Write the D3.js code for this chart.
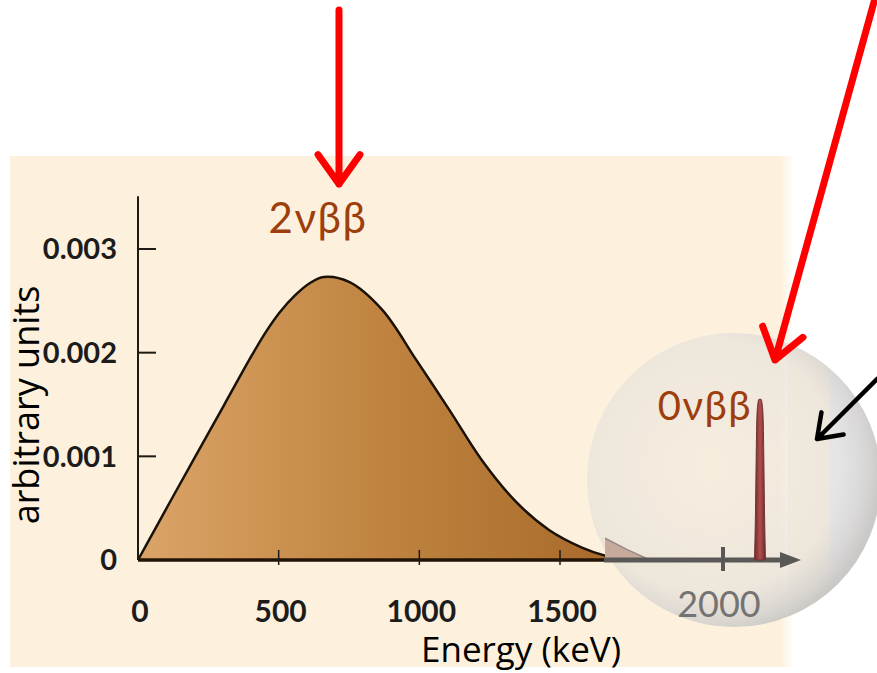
<!DOCTYPE html>
<html>
<head>
<meta charset="utf-8">
<script src="https://cdn.jsdelivr.net/npm/d3@7"></script>
<style>
  html, body { margin: 0; padding: 0; background: #fff; }
  svg { display: block; }
</style>
</head>
<body>
<svg id="chart" width="877" height="673"></svg>
<script>
// 2νββ spectrum: energy (keV) vs rate (arbitrary units)
const energy = [0, 67, 124, 202, 305, 408, 457, 504, 557, 610, 660, 752, 869, 989, 1106, 1223, 1344, 1461, 1578, 1663, 1750];
const rate   = [0, 0.00033, 0.00061, 0.00099, 0.00149, 0.00199, 0.00221, 0.00239, 0.00255, 0.00267, 0.00273, 0.00268, 0.00241, 0.00193, 0.00145, 0.00096, 0.00056, 0.00029, 0.00012, 0.00004, 0];

// end-point region seen through the lens (magnified energy axis)
const tailEnergy = [1875.6, 1875.7, 1899, 1923];
const tailRate   = [0, 0.00021, 0.0001, 0];

// 0νββ line at Q = 2039 keV
const peakEnergy = [2033.2, 2034.3, 2035.0, 2035.5, 2036.4, 2037.95, 2040.05, 2041.6, 2042.5, 2043.0, 2043.7, 2044.8];
const peakRate   = [0, 0.0005, 0.001, 0.0013, 0.00148, 0.00155, 0.00155, 0.00148, 0.0013, 0.001, 0.0005, 0];

const xTicks = [0, 500, 1000, 1500];
const yTicks = [0, 0.001, 0.002, 0.003];
const yTickLabels = ["0", "0.001", "0.002", "0.003"];
const lensTick = 2000;

const svg = d3.select("#chart");
const defs = svg.append("defs");

const x = d3.scaleLinear().domain([0, 1500]).range([138, 560]);
const y = d3.scaleLinear().domain([0, 0.003]).range([560, 249]);
const xLens = d3.scaleLinear().domain([2000, 2039]).range([723, 760]);

// gradients
const bg = defs.append("linearGradient").attr("id", "bg").attr("x1", 0).attr("x2", 1);
bg.append("stop").attr("offset", "0.985").attr("stop-color", "#fdf1dd");
bg.append("stop").attr("offset", "1").attr("stop-color", "#fdf1dd").attr("stop-opacity", 0.2);

const fillG = defs.append("linearGradient").attr("id", "fillG")
  .attr("gradientUnits", "userSpaceOnUse").attr("x1", 138).attr("x2", 620).attr("y1", 0).attr("y2", 0);
fillG.append("stop").attr("offset", "0").attr("stop-color", "#dba468");
fillG.append("stop").attr("offset", "0.5").attr("stop-color", "#c08440");
fillG.append("stop").attr("offset", "1").attr("stop-color", "#a6692a");

const lensG = defs.append("radialGradient").attr("id", "lensG")
  .attr("cx", "0.42").attr("cy", "0.45").attr("r", "0.58");
lensG.append("stop").attr("offset", "0").attr("stop-color", "#e6e4e2").attr("stop-opacity", 0.3);
lensG.append("stop").attr("offset", "0.75").attr("stop-color", "#dddbd9").attr("stop-opacity", 0.5);
lensG.append("stop").attr("offset", "0.93").attr("stop-color", "#d0cecc").attr("stop-opacity", 0.82);
lensG.append("stop").attr("offset", "1").attr("stop-color", "#c8c6c4").attr("stop-opacity", 0.92);

const peakG = defs.append("linearGradient").attr("id", "peakG").attr("x1", 0).attr("x2", 1);
peakG.append("stop").attr("offset", "0").attr("stop-color", "#6a2c2c");
peakG.append("stop").attr("offset", "0.5").attr("stop-color", "#b44c4c");
peakG.append("stop").attr("offset", "1").attr("stop-color", "#6a2c2c");

const lens = { cx: 734, cy: 480, r: 147 };
defs.append("clipPath").attr("id", "lensClip")
  .append("circle").attr("cx", lens.cx).attr("cy", lens.cy).attr("r", lens.r);

// panel background
svg.append("rect").attr("x", 10).attr("y", 156).attr("width", 782).attr("height", 511).attr("fill", "url(#bg)");

// spectrum
const spec = energy.map((e, i) => ({ e, v: rate[i] }));
const curve = d3.curveCatmullRom.alpha(0.5);
const area = d3.area().x(d => x(d.e)).y0(y(0)).y1(d => y(d.v)).curve(curve);
const line = d3.line().x(d => x(d.e)).y(d => y(d.v)).curve(curve);
svg.append("path").datum(spec).attr("d", area).attr("fill", "url(#fillG)");
svg.append("path").datum(spec).attr("d", line).attr("fill", "none")
  .attr("stroke", "#1a1208").attr("stroke-width", 2.5);

// axes
const axisC = "#1e1a16";
svg.append("line").attr("x1", x(0)).attr("x2", x(0)).attr("y1", y(0.00351)).attr("y2", y(0))
  .attr("stroke", axisC).attr("stroke-width", 2);
svg.append("line").attr("x1", x(0)).attr("x2", 606).attr("y1", y(0)).attr("y2", y(0))
  .attr("stroke", "#231408").attr("stroke-width", 3.5);
svg.selectAll(".ytick").data(yTicks.slice(1)).join("line")
  .attr("x1", x(0)).attr("x2", x(0) + 18).attr("y1", d => y(d)).attr("y2", d => y(d))
  .attr("stroke", axisC).attr("stroke-width", 2);
svg.selectAll(".xtick").data(xTicks.slice(1)).join("line")
  .attr("x1", d => x(d)).attr("x2", d => x(d)).attr("y1", y(0) - 10).attr("y2", y(0) + 5)
  .attr("stroke", axisC).attr("stroke-width", 1.5);

// lens
const lensLayer = svg.append("g").attr("clip-path", "url(#lensClip)");
lensLayer.append("rect").attr("x", 788).attr("y", lens.cy - lens.r).attr("width", 42).attr("height", lens.r * 2)
  .attr("fill", "#fdf1dd");
lensLayer.append("rect").attr("x", 830).attr("y", lens.cy - lens.r).attr("width", 60).attr("height", lens.r * 2)
  .attr("fill", "#eeeef3");
svg.append("circle").attr("cx", lens.cx).attr("cy", lens.cy).attr("r", lens.r).attr("fill", "url(#lensG)");

// magnified tail
const tail = tailEnergy.map((e, i) => ({ e, v: tailRate[i] }));
svg.append("path").datum(tail)
  .attr("d", d3.area().x(d => xLens(d.e)).y0(y(0)).y1(d => y(d.v)))
  .attr("fill", "#c8aa9c");
svg.append("path").datum(tail.slice(1))
  .attr("d", d3.line().x(d => xLens(d.e)).y(d => y(d.v)))
  .attr("fill", "none").attr("stroke", "#958a86").attr("stroke-width", 1.5);

// magnified axis with arrow
const gray = "#5a5856";
svg.append("line").attr("x1", 604).attr("x2", 786).attr("y1", y(0)).attr("y2", y(0))
  .attr("stroke", gray).attr("stroke-width", 5);
svg.append("path").attr("d", `M780,${y(0) - 8}L801,${y(0)}L780,${y(0) + 8}Z`).attr("fill", gray);
svg.append("line").attr("x1", xLens(lensTick)).attr("x2", xLens(lensTick))
  .attr("y1", y(0) - 13).attr("y2", y(0) + 11).attr("stroke", gray).attr("stroke-width", 4);

// 0νββ peak
const peak = peakEnergy.map((e, i) => ({ e, v: peakRate[i] }));
svg.append("path").datum(peak)
  .attr("d", d3.area().x(d => xLens(d.e)).y0(y(0)).y1(d => y(d.v)).curve(d3.curveMonotoneX))
  .attr("fill", "url(#peakG)").attr("stroke", "#6a3434").attr("stroke-width", 1);

// tick labels
const tickFont = "Lato, 'Open Sans', sans-serif";
svg.selectAll(".ylab").data(yTicks).join("text")
  .attr("x", 117).attr("y", d => y(d)).attr("dy", "0.36em")
  .attr("text-anchor", "end").attr("font-family", tickFont).attr("font-weight", 700)
  .attr("font-size", 29).attr("fill", "#1c1c1c")
  .text((d, i) => yTickLabels[i]);
svg.selectAll(".xlab").data(xTicks).join("text")
  .attr("x", d => x(d) + 2).attr("y", 622)
  .attr("text-anchor", "middle").attr("font-family", tickFont).attr("font-weight", 700)
  .attr("font-size", 30).attr("fill", "#1c1c1c")
  .text(d => d);
svg.append("text").attr("x", xLens(lensTick) - 4).attr("y", 617)
  .attr("text-anchor", "middle").attr("font-family", tickFont)
  .attr("font-size", 36).attr("fill", "#757371").text(lensTick);

// axis titles
const titleFont = "'Open Sans', 'Liberation Sans', sans-serif";
svg.append("text").attr("x", 521).attr("y", 662).attr("text-anchor", "middle")
  .attr("font-family", titleFont).attr("font-size", 35).attr("fill", "#000").text("Energy (keV)");
svg.append("text").attr("transform", "translate(39,405) rotate(-90)").attr("text-anchor", "middle")
  .attr("font-family", titleFont).attr("font-size", 36).attr("fill", "#000").text("arbitrary units");

// process labels
const brown = "#9e3e0c";
svg.append("text").attr("x", 318).attr("y", 233).attr("text-anchor", "middle")
  .attr("font-family", tickFont).attr("font-size", 42).attr("fill", brown)
  .attr("letter-spacing", 1.5).text("2νββ");
svg.append("text").attr("x", 705).attr("y", 420).attr("text-anchor", "middle")
  .attr("font-family", tickFont).attr("font-size", 40).attr("fill", brown)
  .attr("letter-spacing", 1.5).text("0νββ");

// pointer arrows
const red = "#ff0000";
function arrow(x1, y1, x2, y2, color, w, head) {
  const a = Math.atan2(y2 - y1, x2 - x1);
  const spread = 0.62;
  const p1 = [x2 - head * Math.cos(a - spread), y2 - head * Math.sin(a - spread)];
  const p2 = [x2 - head * Math.cos(a + spread), y2 - head * Math.sin(a + spread)];
  svg.append("path")
    .attr("d", `M${x1},${y1}L${x2},${y2}M${p1[0]},${p1[1]}L${x2},${y2}L${p2[0]},${p2[1]}`)
    .attr("fill", "none").attr("stroke", color).attr("stroke-width", w)
    .attr("stroke-linecap", "round").attr("stroke-linejoin", "round");
}
arrow(339, 10, 339, 184, red, 7, 36);
arrow(874, 2, 775, 360, red, 7, 36);
arrow(877, 379, 817, 439, "#000", 4.5, 27);
</script>
</body>
</html>
